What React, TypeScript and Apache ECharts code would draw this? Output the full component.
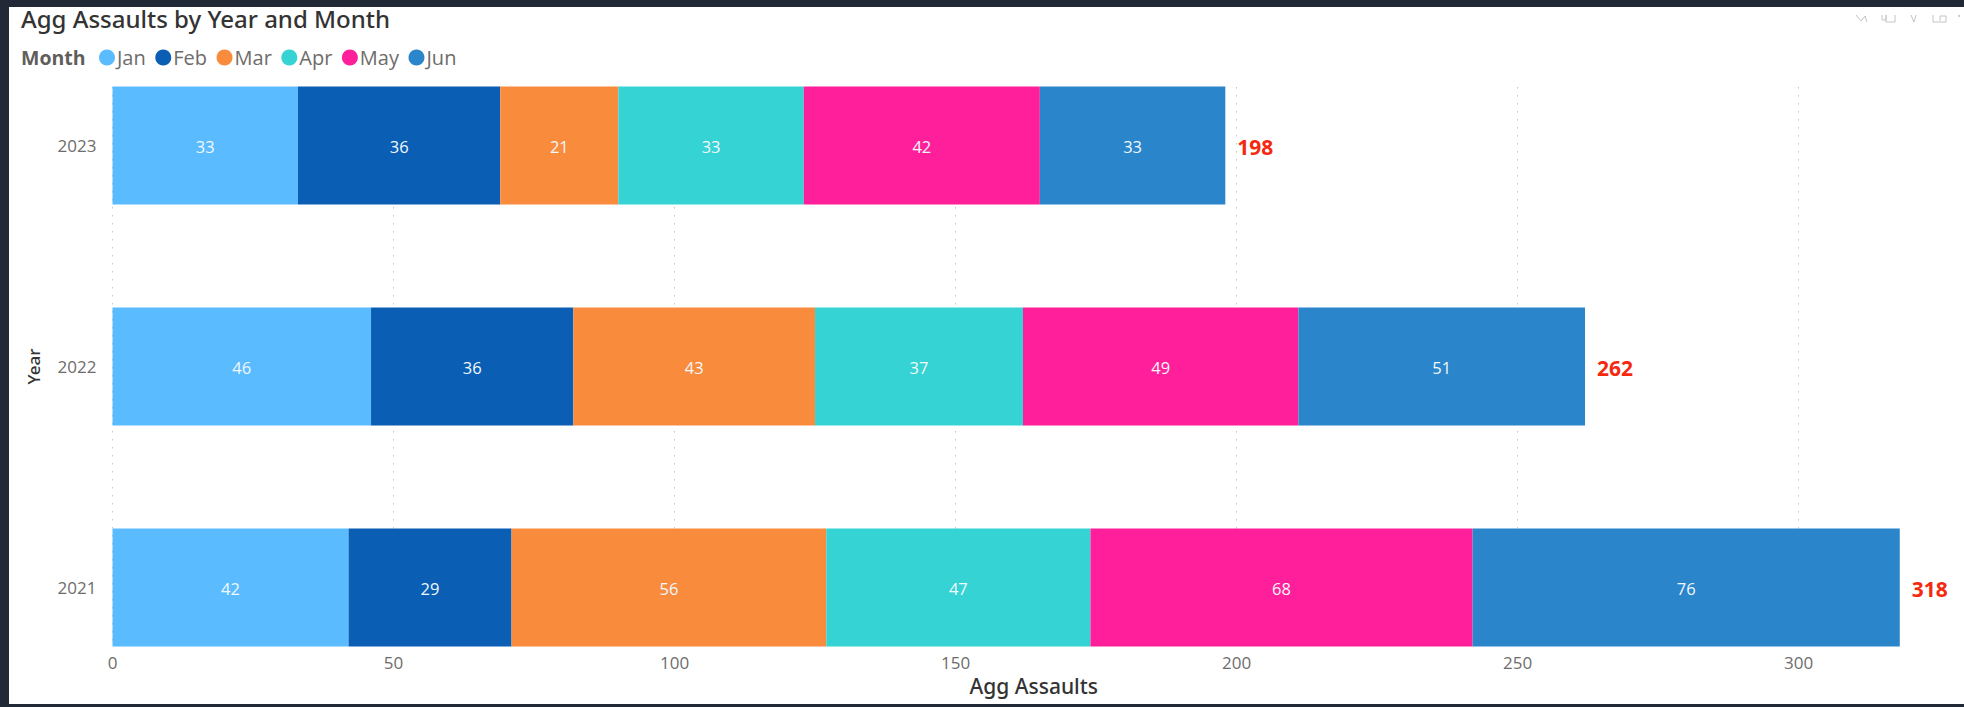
import React, { useEffect, useRef } from "react";
import * as echarts from "echarts";

const years = ["2021", "2022", "2023"];
const months = ["Jan", "Feb", "Mar", "Apr", "May", "Jun"];
const jan = [42, 46, 33];
const feb = [29, 36, 36];
const mar = [56, 43, 21];
const apr = [47, 37, 33];
const may = [68, 49, 42];
const jun = [76, 51, 33];
const totals = [318, 262, 198];
const colors = ["#5ABBFF", "#0A5EB4", "#F98B3C", "#35D3D4", "#FF1F9A", "#2A85CB"];
const FONT = "'Open Sans', sans-serif";
const TITLE_FONT = "'Noto Sans', sans-serif";
const ICON = { stroke: "#C4C4C4", lineWidth: 1, fill: "none" };

export default function App() {
  const ref = useRef<HTMLDivElement>(null);
  useEffect(() => {
    document.body.style.margin = "0";
    const chart = echarts.init(ref.current!, null, { renderer: "svg" });
    const values = [jan, feb, mar, apr, may, jun];
    const monthSeries = months.map((m, i) => ({
      name: m,
      type: "bar",
      stack: "total",
      barWidth: 118,
      xAxisIndex: 0,
      yAxisIndex: 0,
      itemStyle: { color: colors[i] },
      label: {
        show: true,
        position: "inside",
        color: "#F2F8FC",
        fontFamily: FONT,
        fontSize: 16.5,
        offset: [0, 1],
      },
      data: values[i],
    }));
    const totalSeries = {
      name: "Total",
      type: "bar",
      stack: "total",
      barWidth: 118,
      xAxisIndex: 0,
      yAxisIndex: 0,
      itemStyle: { color: "transparent" },
      label: {
        show: true,
        position: "right",
        distance: 12,
        offset: [0, 1],
        color: "#F5290F",
        fontFamily: FONT,
        fontWeight: "bold",
        fontSize: 21,
        formatter: (p: any) => String(totals[p.dataIndex]),
      },
      data: totals.map(() => 0),
    };
    chart.setOption({
      animation: false,
      backgroundColor: "#212936",
      title: [
        {
          text: "Agg Assaults by Year and Month",
          left: 16,
          top: 1,
          textStyle: { fontFamily: TITLE_FONT, fontSize: 24, fontWeight: 500, color: "#333333" },
        },
        {
          text: "Month",
          left: 16,
          top: 42,
          textStyle: { fontFamily: FONT, fontSize: 19.5, fontWeight: "bold", color: "#605E5C" },
        },
      ],
      legend: {
        data: months,
        left: 94,
        top: 42.5,
        icon: "circle",
        itemWidth: 16,
        itemHeight: 16,
        itemGap: 9.5,
        textStyle: { fontFamily: FONT, fontSize: 20, color: "#6E6C6A", padding: [0, 0, 0, -3] },
      },
      grid: [
        { left: 112.5, top: 35, width: 1798.5, height: 663 },
        { left: 112.5, top: 87, width: 1798.5, height: 559 },
      ],
      xAxis: [
        { type: "value", gridIndex: 0, min: 0, max: 320, show: false },
        {
          type: "value",
          gridIndex: 1,
          min: 0,
          max: 320,
          interval: 50,
          axisLine: { show: false },
          axisTick: { show: false },
          axisLabel: { color: "#6E6C6A", fontFamily: FONT, fontSize: 17, margin: 8, showMaxLabel: false },
          splitLine: { show: true, showMaxLine: false, lineStyle: { color: "#C8C6C4", type: [1.5, 6.5], width: 1 } },
          name: "Agg Assaults",
          nameLocation: "middle",
          nameGap: 29,
          nameTextStyle: { color: "#333333", fontFamily: TITLE_FONT, fontSize: 21, fontWeight: 500, padding: [0, 0, 0, 44] },
        },
      ],
      yAxis: [
        {
          type: "category",
          gridIndex: 0,
          data: years,
          axisLine: { show: false },
          axisTick: { show: false },
          axisLabel: { color: "#6E6C6A", fontFamily: FONT, fontSize: 17, margin: 16 },
          name: "Year",
          nameLocation: "middle",
          nameGap: 71,
          nameTextStyle: { color: "#333333", fontFamily: TITLE_FONT, fontSize: 17, fontWeight: 500 },
        },
        { type: "value", gridIndex: 1, min: 0, max: 1, show: false },
      ],
      graphic: [
        { type: "rect", z: -10, silent: true, shape: { x: 9, y: 7, width: 1955, height: 697 }, style: { fill: "#FFFFFF" } },
        { type: "polyline", silent: true, shape: { points: [[1856, 15], [1861, 21], [1865, 16], [1867, 22]] }, style: ICON },
        { type: "polyline", silent: true, shape: { points: [[1882, 15], [1882, 20], [1886, 20], [1886, 15], [1886, 22], [1895, 22], [1895, 15]] }, style: ICON },
        { type: "polyline", silent: true, shape: { points: [[1911, 15], [1914, 22], [1916, 15]] }, style: ICON },
        { type: "polyline", silent: true, shape: { points: [[1933, 15], [1933, 22], [1946, 22], [1946, 16], [1940, 16], [1940, 21]] }, style: ICON },
        { type: "circle", silent: true, shape: { cx: 1959, cy: 16, r: 1 }, style: { fill: "#C4C4C4" } },
      ],
      series: [...monthSeries, totalSeries],
    });
    return () => chart.dispose();
  }, []);
  return <div ref={ref} style={{ width: 1964, height: 707 }} />;
}
